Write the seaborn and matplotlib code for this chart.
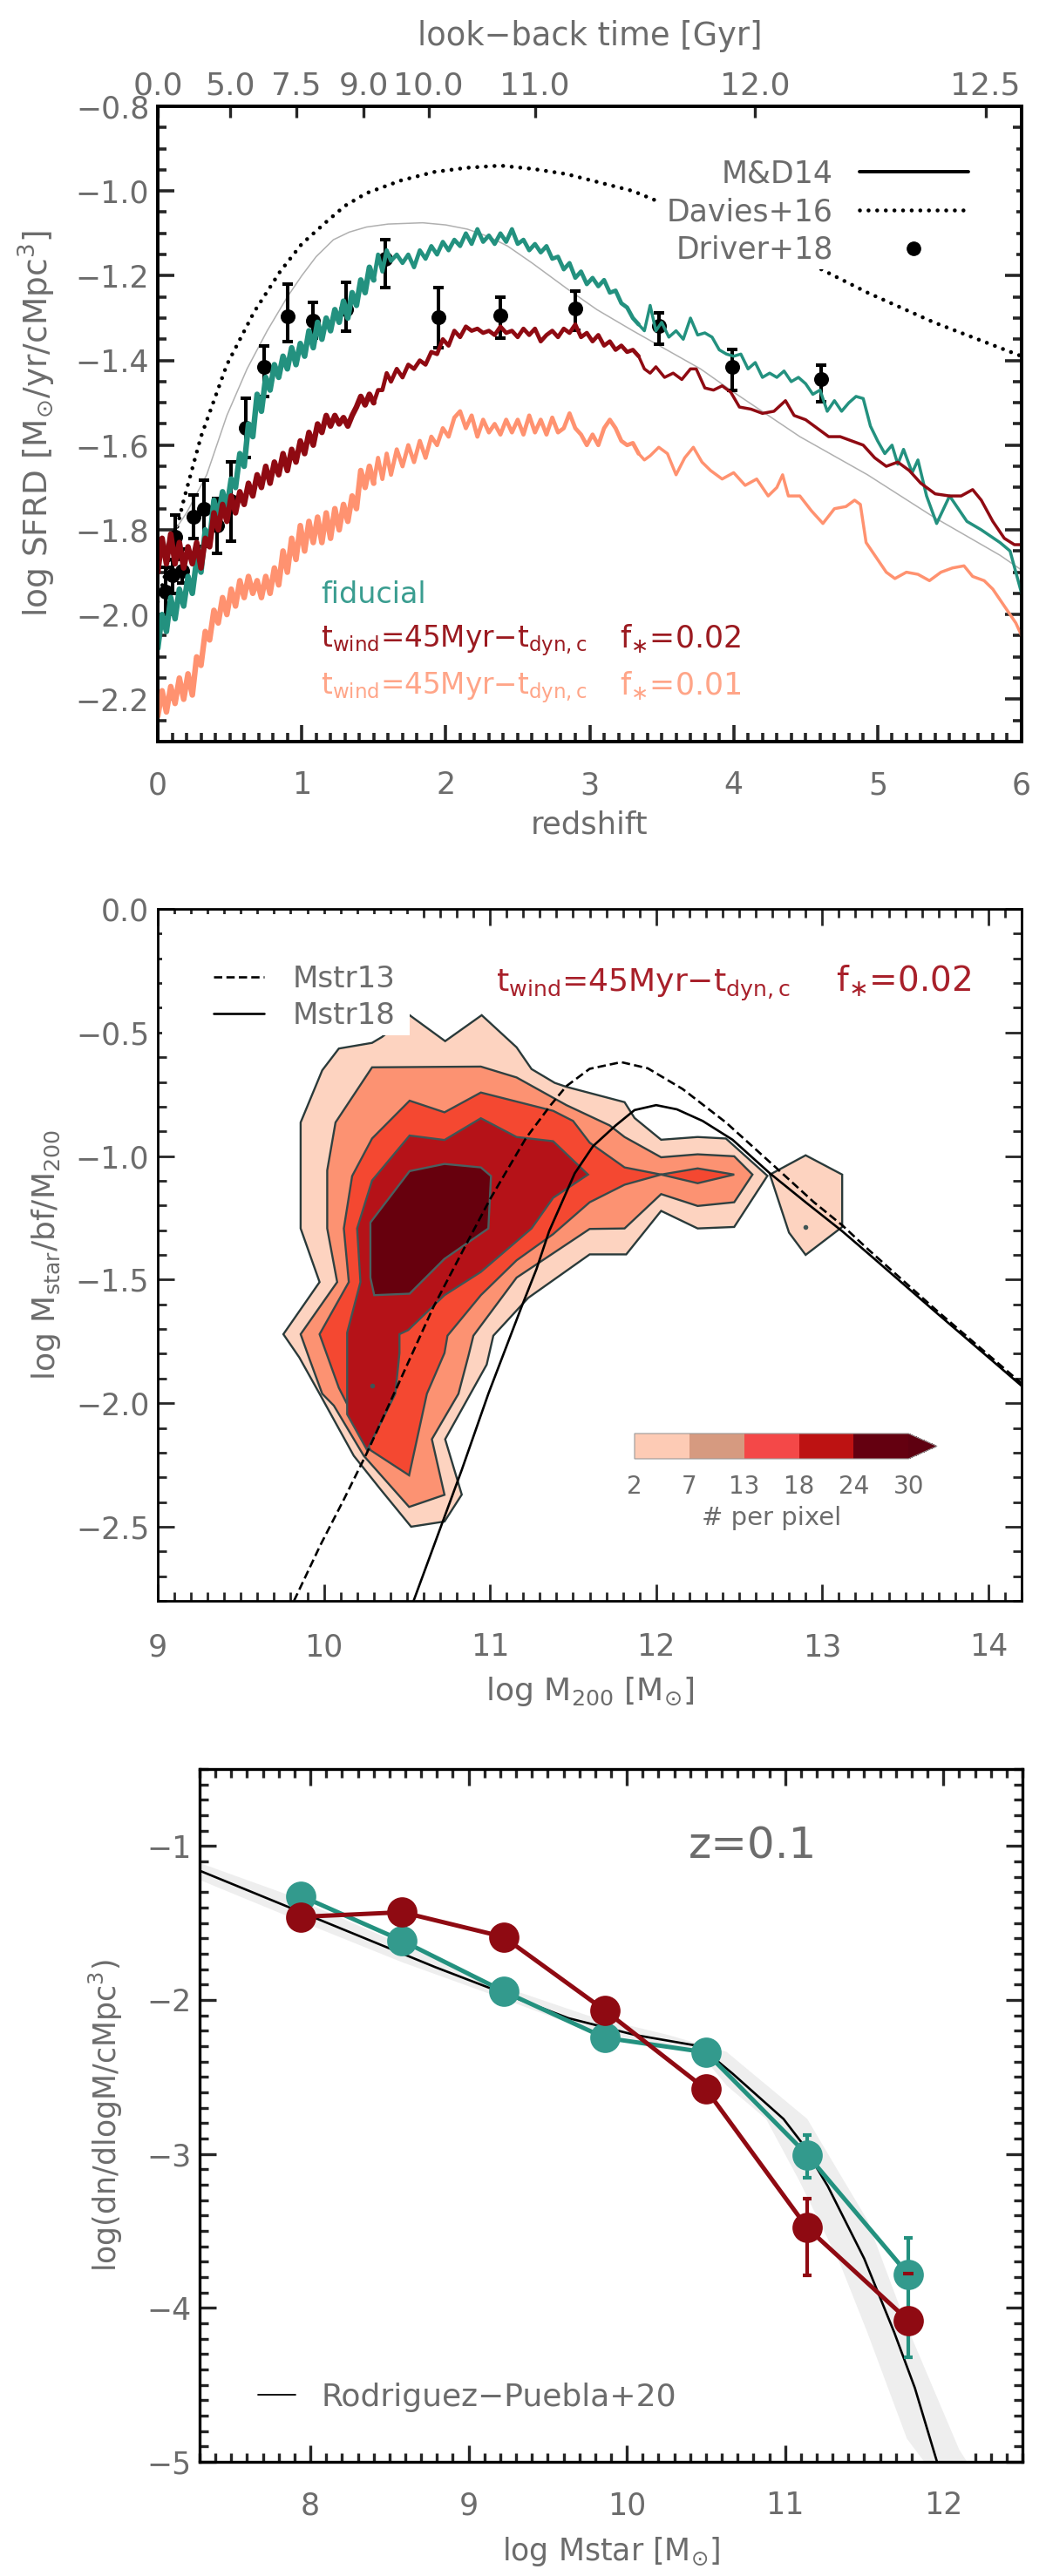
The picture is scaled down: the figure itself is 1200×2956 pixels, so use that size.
import numpy as np
import seaborn as sns
import matplotlib
matplotlib.use("Agg")
from matplotlib import pyplot as plt
from matplotlib.colors import BoundaryNorm, ListedColormap
from matplotlib.cm import ScalarMappable
from matplotlib.lines import Line2D
from matplotlib.patches import Rectangle
from matplotlib.ticker import MultipleLocator

# --- panel 1, star formation rate density ---
z_lo = [0.00, 0.03, 0.06, 0.09, 0.12, 0.15, 0.18, 0.21, 0.24, 0.27,
        0.30, 0.33, 0.36, 0.39, 0.42, 0.45, 0.48, 0.51, 0.54, 0.57,
        0.60, 0.63, 0.66, 0.69, 0.72, 0.75, 0.78, 0.81, 0.84, 0.87,
        0.90, 0.93, 0.96, 0.99, 1.02, 1.05, 1.08, 1.11, 1.14, 1.17,
        1.20, 1.23, 1.26, 1.29, 1.32, 1.35, 1.38, 1.41, 1.44, 1.47,
        1.50, 1.53, 1.56, 1.59, 1.62,
        1.66, 1.70, 1.74, 1.78, 1.82, 1.86, 1.90, 1.94, 1.98, 2.02,
        2.06, 2.10, 2.14, 2.18, 2.22, 2.26, 2.30, 2.34, 2.38, 2.42,
        2.46, 2.50, 2.54, 2.58, 2.62, 2.66, 2.70, 2.74, 2.78, 2.82,
        2.86, 2.90, 2.94, 2.98, 3.02, 3.06, 3.10, 3.14, 3.18, 3.22,
        3.26, 3.30, 3.34]

fiducial_lo = [-2.08, -2.00, -2.04, -1.96, -2.01, -1.94, -1.98, -1.91, -1.95, -1.87,
               -1.90, -1.80, -1.83, -1.73, -1.77, -1.71, -1.75, -1.68, -1.70, -1.62,
               -1.65, -1.55, -1.58, -1.48, -1.52, -1.44, -1.47, -1.41, -1.44, -1.39,
               -1.42, -1.37, -1.41, -1.36, -1.39, -1.33, -1.37, -1.31, -1.35, -1.30,
               -1.33, -1.28, -1.31, -1.26, -1.30, -1.24, -1.27, -1.21, -1.24, -1.18,
               -1.21, -1.15, -1.19, -1.14, -1.165,
               -1.15, -1.17, -1.15, -1.18, -1.14, -1.16, -1.13, -1.15, -1.12, -1.14,
               -1.115, -1.13, -1.10, -1.125, -1.09, -1.12, -1.105, -1.125, -1.10, -1.12,
               -1.09, -1.125, -1.115, -1.14, -1.125, -1.145, -1.13, -1.16, -1.155, -1.185,
               -1.17, -1.205, -1.19, -1.22, -1.205, -1.225, -1.21, -1.24, -1.235, -1.265,
               -1.275, -1.30, -1.315]
fiducial_z_hi = [3.38, 3.42, 3.46, 3.50, 3.55, 3.60, 3.65, 3.70, 3.75, 3.80,
                 3.85, 3.90, 3.95, 4.00, 4.05, 4.10, 4.15, 4.20, 4.25, 4.30,
                 4.35, 4.40, 4.45, 4.50, 4.55, 4.60, 4.65, 4.70, 4.75, 4.80,
                 4.85, 4.90, 4.95, 5.00, 5.05, 5.10, 5.14, 5.18, 5.24, 5.28,
                 5.34, 5.41, 5.50, 5.56, 5.62, 5.72, 5.85, 5.92, 6.00]
fiducial_hi = [-1.33, -1.27, -1.33, -1.31, -1.345, -1.33, -1.35, -1.30, -1.34, -1.335,
               -1.345, -1.375, -1.385, -1.39, -1.385, -1.42, -1.405, -1.44, -1.43, -1.44,
               -1.425, -1.45, -1.44, -1.455, -1.48, -1.47, -1.52, -1.495, -1.52, -1.50,
               -1.485, -1.49, -1.555, -1.59, -1.62, -1.60, -1.645, -1.61, -1.665, -1.635,
               -1.72, -1.785, -1.72, -1.75, -1.78, -1.80, -1.83, -1.85, -1.95]

f02_lo = [-1.90, -1.82, -1.88, -1.81, -1.88, -1.83, -1.89, -1.84, -1.88, -1.83,
          -1.89, -1.82, -1.84, -1.76, -1.80, -1.74, -1.78, -1.72, -1.76, -1.71,
          -1.74, -1.69, -1.72, -1.67, -1.70, -1.65, -1.69, -1.64, -1.67, -1.62,
          -1.66, -1.61, -1.64, -1.59, -1.62, -1.57, -1.60, -1.55, -1.57, -1.53,
          -1.555, -1.53, -1.55, -1.535, -1.555, -1.53, -1.51, -1.485, -1.505, -1.48,
          -1.50, -1.47, -1.47, -1.43, -1.45,
          -1.42, -1.44, -1.41, -1.42, -1.40, -1.41, -1.38, -1.385, -1.35, -1.365,
          -1.33, -1.345, -1.32, -1.33, -1.325, -1.335, -1.33, -1.34, -1.32, -1.335,
          -1.33, -1.345, -1.325, -1.34, -1.325, -1.355, -1.34, -1.33, -1.345, -1.325,
          -1.335, -1.315, -1.345, -1.335, -1.355, -1.34, -1.365, -1.355, -1.375, -1.365,
          -1.38, -1.375, -1.39]
f02_z_hi = [3.38, 3.42, 3.46, 3.52, 3.58, 3.64, 3.70, 3.74, 3.80, 3.86,
            3.92, 3.98, 4.04, 4.12, 4.20, 4.28, 4.36, 4.42, 4.50, 4.58,
            4.66, 4.74, 4.82, 4.90, 4.98, 5.06, 5.14, 5.22, 5.30, 5.40,
            5.50, 5.58, 5.66, 5.72, 5.80, 5.88, 5.95, 6.00]
f02_hi = [-1.42, -1.43, -1.415, -1.44, -1.43, -1.445, -1.42, -1.42, -1.465, -1.47,
          -1.46, -1.475, -1.51, -1.515, -1.525, -1.52, -1.495, -1.53, -1.54, -1.56,
          -1.58, -1.58, -1.59, -1.60, -1.63, -1.65, -1.64, -1.66, -1.69, -1.715,
          -1.72, -1.72, -1.705, -1.73, -1.78, -1.82, -1.835, -1.835]

f01_lo = [-2.24, -2.18, -2.23, -2.17, -2.21, -2.15, -2.20, -2.14, -2.19, -2.10,
          -2.12, -2.04, -2.06, -1.99, -2.02, -1.96, -2.00, -1.94, -1.98, -1.92,
          -1.96, -1.91, -1.95, -1.92, -1.96, -1.91, -1.95, -1.89, -1.93, -1.85,
          -1.90, -1.82, -1.87, -1.79, -1.85, -1.78, -1.83, -1.77, -1.83, -1.76,
          -1.82, -1.75, -1.80, -1.74, -1.78, -1.72, -1.75, -1.66, -1.70, -1.65,
          -1.69, -1.63, -1.68, -1.62, -1.67,
          -1.61, -1.65, -1.60, -1.64, -1.59, -1.63, -1.58, -1.60, -1.56, -1.58,
          -1.535, -1.52, -1.56, -1.53, -1.58, -1.54, -1.57, -1.55, -1.575, -1.54,
          -1.57, -1.54, -1.575, -1.53, -1.57, -1.54, -1.575, -1.535, -1.57, -1.56,
          -1.525, -1.56, -1.575, -1.60, -1.575, -1.60, -1.56, -1.54, -1.56, -1.59,
          -1.60, -1.595, -1.62]
f01_z_hi = [3.38, 3.42, 3.48, 3.54, 3.60, 3.66, 3.72, 3.78, 3.84, 3.92,
            4.00, 4.08, 4.16, 4.24, 4.30, 4.34, 4.38, 4.46, 4.54, 4.62,
            4.70, 4.78, 4.84, 4.88, 4.92, 4.98, 5.06, 5.12, 5.20, 5.28,
            5.36, 5.44, 5.52, 5.60, 5.66, 5.74, 5.80, 5.88, 5.96, 6.00]
f01_hi = [-1.635, -1.625, -1.605, -1.62, -1.67, -1.63, -1.605, -1.64, -1.66, -1.68,
          -1.665, -1.695, -1.68, -1.72, -1.70, -1.67, -1.72, -1.72, -1.755, -1.785,
          -1.75, -1.745, -1.73, -1.74, -1.83, -1.86, -1.90, -1.915, -1.90, -1.905,
          -1.92, -1.90, -1.89, -1.885, -1.91, -1.92, -1.94, -1.98, -2.02, -2.05]

md14_z = [0.0, 0.1, 0.2, 0.34, 0.48, 0.62, 0.76, 0.9, 1.0, 1.1, 1.22, 1.33, 1.45, 1.6, 1.84, 2.0, 2.15, 2.3,
          2.43, 2.6, 2.84, 3.05, 3.3, 3.77, 4.0, 4.46, 4.93, 5.39, 5.85, 6.0]
md14_sfrd = [-1.87, -1.81, -1.76, -1.67, -1.53, -1.42, -1.33, -1.25, -1.2, -1.155, -1.115, -1.097, -1.085, -1.078,
             -1.075, -1.08, -1.09, -1.108, -1.13, -1.17, -1.23, -1.28, -1.33, -1.42, -1.475, -1.58, -1.67, -1.77,
             -1.86, -1.895]

davies_z = [0.0, 0.08, 0.18, 0.3, 0.48, 0.67, 0.85, 1.0, 1.18, 1.3, 1.45, 1.69, 1.92, 2.15, 2.38, 2.61,
            2.84, 3.07, 3.3, 3.8, 4.58, 4.93, 5.39, 6.0]
davies_sfrd = [-1.97, -1.87, -1.73, -1.58, -1.41, -1.285, -1.19, -1.125, -1.07, -1.035, -1.005, -0.975, -0.955,
               -0.945, -0.94, -0.948, -0.96, -0.98, -1.0, -1.07, -1.18, -1.24, -1.31, -1.39]

driver_z = [0.055, 0.10, 0.12, 0.17, 0.25, 0.32, 0.41, 0.51, 0.61, 0.74, 0.90, 1.08, 1.305,
            1.58, 1.95, 2.38, 2.90, 3.48, 3.99, 4.61]
driver_sfrd = [-1.947, -1.907, -1.817, -1.897, -1.77, -1.75, -1.79, -1.733, -1.56, -1.415, -1.295,
               -1.307, -1.28, -1.16, -1.298, -1.293, -1.278, -1.318, -1.415, -1.445]
driver_top = [-1.888, -1.87, -1.764, -1.845, -1.718, -1.683, -1.726, -1.64, -1.49, -1.365, -1.22,
              -1.262, -1.215, -1.115, -1.228, -1.25, -1.237, -1.287, -1.375, -1.412]
driver_bottom = [-2.0, -1.95, -1.87, -1.925, -1.82, -1.84, -1.855, -1.826, -1.63, -1.485, -1.355,
                 -1.347, -1.33, -1.227, -1.37, -1.347, -1.328, -1.362, -1.47, -1.498]

lookback_z = [0.0, 0.5, 0.96, 1.43, 1.88, 2.62, 4.15, 5.75]
lookback_labels = ["0.0", "5.0", "7.5", "9.0", "10.0", "11.0", "12.0", "12.5"]
sfrd_ticks = [-0.8, -1.0, -1.2, -1.4, -1.6, -1.8, -2.0, -2.2]
sfrd_tick_labels = ["\u22120.8", "\u22121.0", "\u22121.2", "\u22121.4", "\u22121.6", "\u22121.8", "\u22122.0", "\u22122.2"]

# --- panel 2, contours of the halo population (# per pixel) ---
level1_x = [10.516, 10.73, 10.95, 11.16, 11.25, 11.39, 11.46, 11.81, 11.87, 12.03, 12.25, 12.42, 12.67,
            12.47, 12.25, 12.03, 11.82, 11.60, 11.23, 11.02, 10.98, 10.73, 10.83, 10.726, 10.525,
            10.34, 10.18, 9.974, 9.852, 9.756, 9.974, 9.86, 9.86, 9.99, 10.09, 10.29, 10.35]
level1_y = [-0.43, -0.535, -0.43, -0.56, -0.648, -0.704, -0.72, -0.782, -0.846, -0.934, -0.923, -0.929, -1.08,
            -1.287, -1.293, -1.222, -1.398, -1.398, -1.574, -1.727, -1.844, -2.146, -2.37, -2.479, -2.50,
            -2.348, -2.213, -1.962, -1.815, -1.721, -1.51, -1.293, -0.864, -0.653, -0.565, -0.542, -0.518]
island_x = [12.685, 12.9, 13.12, 13.12, 12.9, 12.80]
island_y = [-1.075, -0.997, -1.075, -1.287, -1.40, -1.31]
level2_x = [10.29, 10.945, 11.16, 11.46, 11.72, 11.81, 12.03, 12.25, 12.47, 12.58, 12.47, 12.25, 12.03,
            11.81, 11.60, 11.16, 10.90, 10.87, 10.81, 10.65, 10.726, 10.513, 10.24, 10.06, 9.99,
            9.913, 9.86, 10.08, 10.02, 10.02, 10.07]
level2_y = [-0.641, -0.638, -0.682, -0.794, -0.876, -0.923, -1.005, -0.993, -1.001, -1.075, -1.187, -1.202, -1.154,
            -1.293, -1.295, -1.492, -1.727, -1.809, -1.962, -2.146, -2.371, -2.42, -2.213, -2.01, -1.962,
            -1.821, -1.721, -1.51, -1.293, -1.058, -0.864]
level3_x = [10.516, 10.726, 10.945, 11.38, 11.5, 11.60, 11.81, 12.03, 12.25, 12.47, 12.25, 12.03, 11.81,
            11.60, 11.38, 11.16, 10.945, 10.744, 10.726, 10.62, 10.513, 10.28, 10.09, 9.974,
            10.15, 10.12, 10.17, 10.29]
level3_y = [-0.776, -0.823, -0.743, -0.817, -0.858, -0.946, -1.046, -1.075, -1.05, -1.075, -1.11, -1.075, -1.116,
            -1.187, -1.316, -1.422, -1.563, -1.727, -1.797, -1.962, -2.292, -2.19, -1.938, -1.721,
            -1.51, -1.293, -1.081, -0.929]
level4_x = [10.516, 10.726, 10.945, 11.16, 11.38, 11.59, 11.38, 11.25, 10.945, 10.726, 10.508, 10.455,
            10.455, 10.43, 10.26, 10.14, 10.14, 10.22, 10.2, 10.29]
level4_y = [-0.917, -0.935, -0.847, -0.923, -0.94, -1.075, -1.169, -1.293, -1.469, -1.563, -1.704, -1.721,
            -1.797, -1.962, -2.19, -2.045, -1.715, -1.51, -1.293, -1.099]
level5_x = [10.516, 10.726, 10.945, 11.006, 10.99, 10.726, 10.516, 10.303, 10.28, 10.28]
level5_y = [-1.061, -1.032, -1.046, -1.081, -1.293, -1.416, -1.557, -1.563, -1.492, -1.269]
specks_x = [10.29, 12.9]
specks_y = [-1.929, -1.287]

mstr13_m = [9.82, 9.98, 10.12, 10.26, 10.43, 10.66, 10.87, 11.0, 11.216, 11.365, 11.46, 11.6, 11.79, 11.95,
            12.16, 12.42, 12.72, 12.95, 13.12, 13.28, 13.68, 14.2]
mstr13_ratio = [-2.8, -2.573, -2.39, -2.2, -1.95, -1.61, -1.34, -1.175, -0.928, -0.794, -0.717, -0.647, -0.62, -0.645,
                -0.729, -0.864, -1.046, -1.187, -1.28, -1.38, -1.62, -1.92]
mstr18_m = [10.54, 10.83, 10.99, 11.19, 11.28, 11.356, 11.51, 11.62, 11.757, 11.87, 12.0, 12.125, 12.28, 12.46,
            12.685, 12.9, 13.12, 13.3, 13.68, 14.2]
mstr18_ratio = [-2.8, -2.27, -1.962, -1.61, -1.457, -1.304, -1.07, -0.96, -0.876, -0.814, -0.794, -0.811, -0.858, -0.934,
                -1.07, -1.187, -1.304, -1.408, -1.63, -1.93]

cbar_levels = [2, 7, 13, 18, 24, 30]
cbar_colors = ["#fdcbb5", "#d69a80", "#f44848", "#bd1212", "#640010"]

# --- panel 3, stellar mass function at z=0.1 ---
bins_mstar = [7.94, 8.58, 9.22, 9.86, 10.50, 11.14, 11.78]
smf_fiducial = [-1.324, -1.615, -1.943, -2.245, -2.34, -3.006, -3.785]
smf_f02 = [-1.46, -1.43, -1.59, -2.067, -2.58, -3.48, -4.083]
err_mstar = [11.14, 11.78]
err_fiducial_top = [-2.88, -3.545]
err_fiducial_bottom = [-3.155, -4.32]
err_f02_mstar = [11.14]
err_f02_top = [-3.293]
err_f02_bottom = [-3.79]
rp20_mstar = [7.3, 8.79, 9.12, 9.63, 10.05, 10.46, 10.67, 10.99, 11.1, 11.27, 11.5, 11.69, 11.82, 11.96]
rp20_smf = [-1.16, -1.787, -1.917, -2.118, -2.227, -2.30, -2.48, -2.773, -2.92, -3.21, -3.68, -4.16, -4.52, -5.0]
band_upper_x = [7.3, 7.84, 9.12, 9.75, 10.26, 10.63, 11.14, 11.35, 11.52, 11.77, 12.1, 12.15]
band_upper_y = [-1.11, -1.31, -1.88, -2.10, -2.227, -2.337, -2.773, -3.137, -3.43, -4.12, -4.92, -5.0]
band_lower_x = [7.3, 7.81, 8.58, 9.12, 9.75, 10.46, 10.63, 10.88, 11.09, 11.35, 11.52, 11.77, 11.88]
band_lower_y = [-1.22, -1.436, -1.755, -1.955, -2.195, -2.343, -2.555, -2.773, -3.175, -3.72, -4.16, -4.85, -5.0]

TEAL = "#23917f"
TEAL_MARK = "#339a8d"
MAROON = "#8f0a12"
CORAL = "#ff9270"
GREY_TEXT = "#6c6c6c"
W, H = 1200, 2956

sns.set_theme(style="ticks", rc={"mathtext.fontset": "dejavusans", "mathtext.default": "regular",
                                 "axes.edgecolor": "black", "text.color": GREY_TEXT,
                                 "axes.labelcolor": GREY_TEXT, "xtick.labelcolor": GREY_TEXT,
                                 "ytick.labelcolor": GREY_TEXT, "font.size": 24})
plt.rcParams["font.family"] = ["DejaVu Sans"]

fig = plt.figure(figsize=(W / 100, H / 100), dpi=100, facecolor="white")


def add_ax(left, top, right, bottom):
    return fig.add_axes([left / W, 1 - bottom / H, (right - left) / W, (bottom - top) / H])


def style_ax(ax, xminor, yminor, lw=2.4, xpad=24):
    ax.xaxis.set_minor_locator(MultipleLocator(xminor))
    ax.yaxis.set_minor_locator(MultipleLocator(yminor))
    for spine in ax.spines.values():
        spine.set_linewidth(lw)
        spine.set_visible(True)
    ax.tick_params(which="major", direction="in", length=14, width=lw, top=True, right=True,
                   labelsize=25)
    ax.tick_params(which="minor", direction="in", length=7, width=lw, top=True, right=True)
    ax.tick_params(axis="x", which="major", pad=xpad)
    ax.tick_params(axis="y", which="major", pad=7)


def draw_sfrd(ax, z, sfrd, color, zorder):
    # the curves get thinner with redshift, the noise at low z reads as a solid band
    for start, stop, lw in [(0, 51, 4.6), (50, 98, 3.4), (97, None, 2.5)]:
        sns.lineplot(x=z[start:stop], y=sfrd[start:stop], ax=ax, color=color, lw=lw,
                     estimator=None, sort=False, zorder=zorder)


# panel 1
ax1 = add_ax(181, 122, 1172, 851)
sns.lineplot(x=davies_z, y=davies_sfrd, ax=ax1, color="black", lw=3.3, estimator=None, sort=False,
             linestyle=(0, (0.01, 2.15)), dash_capstyle="round", zorder=1)
ax1.add_patch(Rectangle((0.579, 0.7435), 0.415, 0.22, transform=ax1.transAxes, fc="white", ec="none", zorder=1.5))
sns.lineplot(x=md14_z, y=md14_sfrd, ax=ax1, color="#b0b0b0", lw=1.1, estimator=None, sort=False, zorder=2)
ax1.errorbar(driver_z, driver_sfrd,
             yerr=[np.array(driver_sfrd) - np.array(driver_bottom), np.array(driver_top) - np.array(driver_sfrd)],
             fmt="none", ecolor="black", elinewidth=2.9, capsize=4.5, capthick=2.9, zorder=2.2)
sns.scatterplot(x=driver_z, y=driver_sfrd, ax=ax1, color="black", s=150, linewidth=0, zorder=2.3)
draw_sfrd(ax1, z_lo + fiducial_z_hi, fiducial_lo + fiducial_hi, TEAL, 3)
draw_sfrd(ax1, z_lo + f01_z_hi, f01_lo + f01_hi, CORAL, 3)
draw_sfrd(ax1, z_lo + f02_z_hi, f02_lo + f02_hi, MAROON, 3.1)
ax1.set_xlim(0, 6)
ax1.set_ylim(-2.3, -0.8)
ax1.set_xticks(range(7))
ax1.set_yticks(sfrd_ticks, labels=sfrd_tick_labels)
style_ax(ax1, 0.1, 0.05, lw=2.6)
ax1.tick_params(which="both", top=False)
ax1.set_xlabel("redshift", fontsize=25.5, labelpad=8)
ax1.set_ylabel(r"log SFRD [M$_{\odot}$/yr/cMpc$^3$]", fontsize=27, labelpad=15)

ax1_top = ax1.twiny()
ax1_top.set_xlim(0, 6)
ax1_top.set_xticks(lookback_z, labels=lookback_labels)
ax1_top.tick_params(axis="x", which="major", direction="in", length=9.5, width=2.4, pad=5, labelsize=26)
ax1_top.set_xlabel("look\u2212back time [Gyr]", fontsize=26.5, labelpad=21)
for spine in ax1_top.spines.values():
    spine.set_linewidth(2.6)

ax1.legend(handles=[Line2D([], [], color="black", lw=2.8, label="M&D14"),
                    Line2D([], [], color="black", lw=3.3, linestyle=(0, (0.01, 2.15)),
                           dash_capstyle="round", label="Davies+16"),
                    Line2D([], [], color="black", marker="o", ms=11, lw=0, label="Driver+18")],
           loc="upper right", bbox_to_anchor=(0.938, 0.917), borderaxespad=0, borderpad=0, frameon=False,
           markerfirst=False, fontsize=25, labelspacing=0.28, handlelength=3.6, handletextpad=0.85,
           labelcolor=GREY_TEXT)

ax1.text(1.133, -1.972, "fiducial", color="#3a9d90", fontsize=24, va="baseline")
ax1.text(1.133, -2.077, r"t$_{wind}$=45Myr$-$t$_{dyn,c}$", color="#9b1a20", fontsize=23.5, va="baseline")
ax1.text(3.21, -2.077, r"f$_{\ast}$=0.02", color="#9b1a20", fontsize=25, va="baseline")
ax1.text(1.133, -2.188, r"t$_{wind}$=45Myr$-$t$_{dyn,c}$", color="#ffa588", fontsize=23.5, va="baseline")
ax1.text(3.21, -2.188, r"f$_{\ast}$=0.01", color="#ffa588", fontsize=25, va="baseline")

# panel 2
ax2 = add_ax(181, 1043, 1172, 1837)
ax2.fill(level1_x, level1_y, fc="#fdd3c0", ec="#2a3a3a", lw=1.7, zorder=1)
ax2.fill(island_x, island_y, fc="#fdd3c0", ec="#2a3a3a", lw=1.7, zorder=1)
ax2.fill(level2_x, level2_y, fc="#fc9272", ec="#2f4040", lw=1.7, zorder=1.1)
ax2.fill(level3_x, level3_y, fc="#f44831", ec="#374a4a", lw=1.7, zorder=1.2)
ax2.fill(level4_x, level4_y, fc="#b51218", ec="#3f5555", lw=1.7, zorder=1.3)
ax2.fill(level5_x, level5_y, fc="#67000d", ec="#4a6060", lw=1.7, zorder=1.4)
sns.scatterplot(x=specks_x, y=specks_y, ax=ax2, color="#3f5555", s=16, linewidth=0, zorder=1.5)
ax2.add_patch(Rectangle((0.005, 0.8174), 0.2866, 0.175, transform=ax2.transAxes, fc="white", ec="none", zorder=1.6))
sns.lineplot(x=mstr13_m, y=mstr13_ratio, ax=ax2, color="black", lw=1.9, estimator=None, sort=False,
             linestyle=(0, (3.6, 1.8)), zorder=2)
sns.lineplot(x=mstr18_m, y=mstr18_ratio, ax=ax2, color="black", lw=1.9, estimator=None, sort=False, zorder=2.1)
ax2.set_xlim(9, 14.2)
ax2.set_ylim(-2.8, 0)
ax2.set_xticks([9, 10, 11, 12, 13, 14])
ax2.set_yticks([0, -0.5, -1, -1.5, -2, -2.5], labels=["0.0", "\u22120.5", "\u22121.0", "\u22121.5", "\u22122.0", "\u22122.5"])
style_ax(ax2, 0.1, 0.1, lw=2.0, xpad=26)
ax2.set_xlabel(r"log M$_{200}$ [M$_{\odot}$]", fontsize=26, labelpad=11)
ax2.set_ylabel(r"log M$_{star}$/bf/M$_{200}$", fontsize=26, labelpad=11)
ax2.legend(handles=[Line2D([], [], color="black", lw=1.9, linestyle=(0, (3.6, 1.8)), label="Mstr13"),
                    Line2D([], [], color="black", lw=1.9, label="Mstr18")],
           loc="upper left", bbox_to_anchor=(0.065, 0.92), borderaxespad=0, borderpad=0, frameon=False,
           fontsize=24.5, labelspacing=0.28, handlelength=1.7, handletextpad=0.95, labelcolor=GREY_TEXT)
ax2.text(11.036, -0.335, r"t$_{wind}$=45Myr$-$t$_{dyn,c}$", color="#a8202a", fontsize=26, va="baseline")
ax2.text(13.08, -0.335, r"f$_{\ast}$=0.02", color="#a8202a", fontsize=28, va="baseline")

cax = add_ax(728, 1645, 1075, 1674)
cmap = ListedColormap(cbar_colors)
cmap.set_over("#5e0010")
norm = BoundaryNorm(cbar_levels, cmap.N)
cbar = fig.colorbar(ScalarMappable(norm=norm, cmap=cmap), cax=cax, orientation="horizontal",
                    extend="max", extendfrac=0.104, ticks=cbar_levels)
cbar.ax.tick_params(length=0, labelsize=20, pad=13)
cbar.outline.set_edgecolor("#999999")
cbar.outline.set_linewidth(0.8)
cbar.set_label("# per pixel", fontsize=21, labelpad=6, color=GREY_TEXT)

# panel 3
ax3 = add_ax(229, 2030, 1173, 2825)
ax3.fill(band_upper_x + band_lower_x[::-1], band_upper_y + band_lower_y[::-1], fc="#eeeeee", ec="none", zorder=1)
sns.lineplot(x=rp20_mstar, y=rp20_smf, ax=ax3, color="black", lw=1.9, estimator=None, sort=False, zorder=2)
ax3.errorbar(err_mstar, [smf_fiducial[5], smf_fiducial[6]],
             yerr=[np.array(smf_fiducial[5:]) - np.array(err_fiducial_bottom),
                   np.array(err_fiducial_top) - np.array(smf_fiducial[5:])],
             fmt="none", ecolor=TEAL, elinewidth=3, capsize=3.5, capthick=3, zorder=2.5)
sns.lineplot(x=bins_mstar, y=smf_fiducial, ax=ax3, color=TEAL, lw=3.6, marker="o", ms=25, mew=0,
             mfc=TEAL_MARK, estimator=None, sort=False, zorder=3)
ax3.errorbar(err_f02_mstar, [smf_f02[5]],
             yerr=[np.array(smf_f02[5:6]) - np.array(err_f02_bottom),
                   np.array(err_f02_top) - np.array(smf_f02[5:6])],
             fmt="none", ecolor=MAROON, elinewidth=3, capsize=3.5, capthick=3, zorder=3.5)
sns.lineplot(x=bins_mstar, y=smf_f02, ax=ax3, color=MAROON, lw=3.6, marker="o", ms=25, mew=0,
             estimator=None, sort=False, zorder=4)
sns.scatterplot(x=[11.78], y=[-3.78], ax=ax3, color=MAROON, marker="_", s=80, linewidth=3, zorder=4.1)
ax3.set_xlim(7.3, 12.5)
ax3.set_ylim(-5, -0.5)
ax3.set_xticks([8, 9, 10, 11, 12])
ax3.set_yticks([-1, -2, -3, -4, -5], labels=["\u22121", "\u22122", "\u22123", "\u22124", "\u22125"])
style_ax(ax3, 0.1, 0.1, lw=2.4)
ax3.set_xlabel(r"log Mstar [M$_{\odot}$]", fontsize=25, labelpad=12)
ax3.set_ylabel(r"log(dn/dlogM/cMpc$^3$)", fontsize=25, labelpad=18)
ax3.text(10.39, -1, "z=0.1", fontsize=36, va="center", color=GREY_TEXT)
ax3.legend(handles=[Line2D([], [], color="black", lw=1.3, label="Rodriguez\u2212Puebla+20")],
           loc="center left", bbox_to_anchor=(0.071, 0.093), borderaxespad=0, borderpad=0, frameon=False,
           fontsize=26, handlelength=1.2, handletextpad=0.8, labelcolor=GREY_TEXT)

fig.savefig("out.png", dpi=100, facecolor="white")
